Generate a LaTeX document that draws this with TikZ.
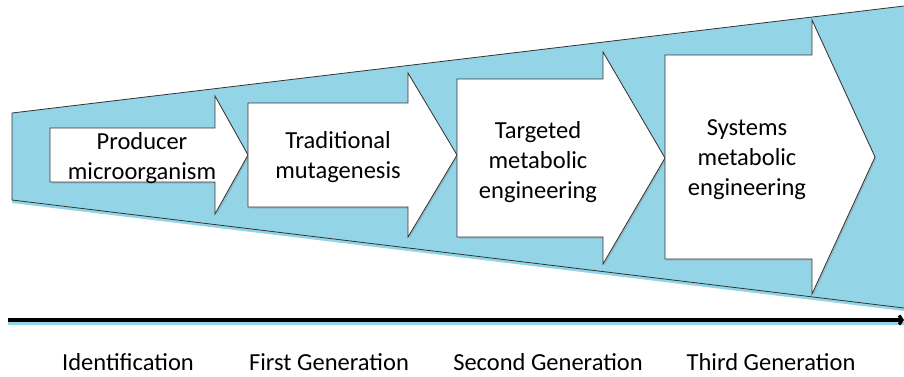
\documentclass[tikz,border=0pt]{standalone}
\usepackage{fontspec}
\setmainfont{Carlito}
\usetikzlibrary{positioning}
\usetikzlibrary{shadows}
\usetikzlibrary{arrows.meta}
\definecolor{funnelblue}{RGB}{147,212,230}
\tikzset{
	every node/.style = {font=\fontsize{24.5}{30}\selectfont},
	stagearrow/.style = {draw=black!80, fill=white, line width=0.8pt, drop shadow={shadow xshift=1.5pt, shadow yshift=-1.5pt, opacity=0.3}},
	stagetext/.style = {align=center, inner sep=0pt}
}

\begin{document}
\begin{tikzpicture}[x=1pt, y=-1pt]
		\useasboundingbox (0,0) rectangle (904,376);
		% funnel
		\coordinate (fTL) at (12,113);
		\coordinate (fBL) at (12,200);
		\coordinate (fTR) at (904,6);
		\coordinate (fBR) at (904,308);
		\fill[funnelblue, general shadow={fill=funnelblue, shadow yshift=-3pt}] (fTL) -- (fTR) -- (fBR) -- (fBL) -- cycle;
		\draw[black!80, line width=0.8pt] (fTR) -- (fTL) -- (fBL) -- (fBR);
		% stage arrows
		\foreach \bl/\hx/\tx/\cy/\bh/\hh/\lx/\ly/\lab [count=\i] in {
			50/215/248/155/27/59/142/158/{Producer\\microorganism},
			248/408/457/155/52/82/338/157/{Traditional\\mutagenesis},
			457/603/665/158/79/106/538/162/{Targeted\\metabolic\\engineering},
			665/812/875/157/102/137/747/160/{Systems\\metabolic\\engineering}}
		{
			\draw[stagearrow] (\bl,\cy-\bh) -- (\hx,\cy-\bh) -- (\hx,\cy-\hh) -- (\tx,\cy)
				-- (\hx,\cy+\hh) -- (\hx,\cy+\bh) -- (\bl,\cy+\bh) -- cycle;
			\node[stagetext] (stage\i) at (\lx,\ly) {\lab};
		}
		% time axis
		\coordinate (axL) at (8,320);
		\coordinate (axR) at (904,320);
		\draw[funnelblue, line width=3pt] ([yshift=-3pt]axL) -- ([yshift=-3pt]axR);
		\draw[-{Straight Barb[length=3pt, width=9pt]}, line width=3.2pt] (axL) -- (axR);
		% generations
		\foreach \x/\lab [count=\i] in {128/Identification, 329/First Generation, 548/Second Generation, 771/Third Generation}
			\node (gen\i) at (\x,362) {\lab};
	\end{tikzpicture}
\end{document}
